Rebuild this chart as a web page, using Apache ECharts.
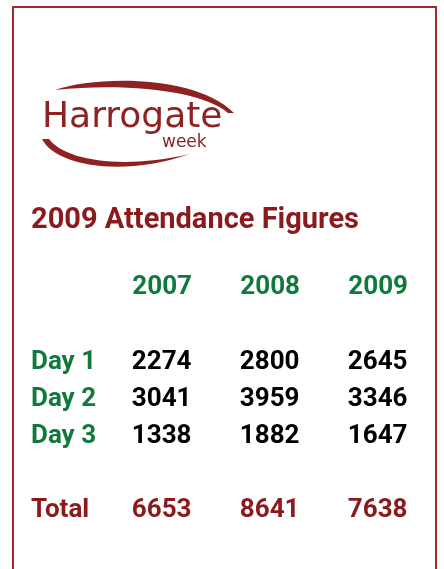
<!DOCTYPE html>
<html>
<head>
<meta charset="utf-8">
<style>
  html, body { margin: 0; padding: 0; background: #fff; }
  #chart { width: 444px; height: 569px; }
</style>
<script src="https://cdn.jsdelivr.net/npm/echarts@6/dist/echarts.min.js"></script>
</head>
<body>
<div id="chart"></div>
<script>
// table data
const years = ['2007', '2008', '2009'];
const rowNames = ['Day 1', 'Day 2', 'Day 3', '', 'Total'];
const day1 = [2274, 2800, 2645];
const day2 = [3041, 3959, 3346];
const day3 = [1338, 1882, 1647];
const totals = [6653, 8641, 7638];

const RED = '#8b1a1d';
const GREEN = '#0f7a3c';
const FONT = 'Roboto';

// logo swooshes as registered path shapes
echarts.graphic.registerShape('swooshTop', echarts.graphic.extendPath(
  'M55,90 C95,76 195,74 234,113 L228,113 C205,92 130,82 55,90 Z'));
echarts.graphic.registerShape('swooshBottom', echarts.graphic.extendPath(
  'M42,139 C55,165 120,178 190,154 C120,170 65,160 49,139 Z'));

const chart = echarts.init(document.getElementById('chart'));

// one invisible scatter row per table line, the label carries the number
function rowSeries(name, values, color) {
  return {
    type: 'scatter',
    name: name,
    symbolSize: 1,
    itemStyle: { color: 'rgba(0,0,0,0)', opacity: 1 },
    emphasis: { disabled: true },
    data: years.map((y, i) => [y, name, values[i]]),
    label: {
      show: true,
      position: 'left',
      distance: 0,
      formatter: (p) => String(p.value[2]),
      color: color,
      fontFamily: FONT,
      fontWeight: 'bold',
      fontSize: 26
    }
  };
}

chart.setOption({
  animation: false,
  backgroundColor: '#fff',
  title: {
    text: '2009 Attendance Figures',
    left: 31,
    top: 206,
    padding: 0,
    textStyle: { color: RED, fontFamily: FONT, fontWeight: 'bold', fontSize: 29 }
  },
  grid: { left: 192, right: 36, top: 362, bottom: 59, outerBoundsMode: 'none', containLabel: false },
  xAxis: {
    type: 'category',
    position: 'top',
    boundaryGap: false,
    data: years,
    axisLine: { show: false },
    axisTick: { show: false },
    splitLine: { show: false },
    axisLabel: {
      margin: 75,
      align: 'right',
      verticalAlign: 'middle',
      color: GREEN,
      fontFamily: FONT,
      fontWeight: 'bold',
      fontSize: 26
    }
  },
  yAxis: {
    type: 'category',
    inverse: true,
    boundaryGap: false,
    data: rowNames.map((n) => ({
      value: n,
      textStyle: { color: n === 'Total' ? RED : GREEN, align: 'left' }
    })),
    axisLine: { show: false },
    axisTick: { show: false },
    splitLine: { show: false },
    axisLabel: {
      margin: 161,
      align: 'left',
      fontFamily: FONT,
      fontWeight: 'bold',
      fontSize: 26
    }
  },
  series: [
    rowSeries('Day 1', day1, '#000'),
    rowSeries('Day 2', day2, '#000'),
    rowSeries('Day 3', day3, '#000'),
    rowSeries('Total', totals, RED)
  ],
  graphic: [
    // frame
    {
      type: 'rect',
      shape: { x: 13, y: 7, width: 423, height: 600 },
      style: { fill: 'none', stroke: '#a02c2c', lineWidth: 2 }
    },
    { type: 'swooshTop', style: { fill: '#8e2222' } },
    { type: 'swooshBottom', style: { fill: '#8e2222' } },
    {
      type: 'text',
      left: 42,
      top: 100,
      style: { text: 'Harrogate', fill: '#8e2222', font: '36px "DejaVu Sans"' }
    },
    {
      type: 'text',
      left: 162,
      top: 134,
      style: { text: 'week', fill: '#8e2222', font: '17px "DejaVu Sans"' }
    }
  ]
});
</script>
</body>
</html>
